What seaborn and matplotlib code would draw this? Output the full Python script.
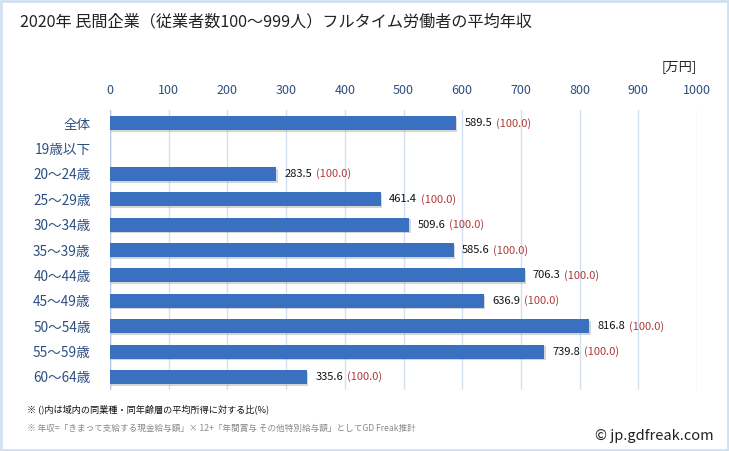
import numpy as np
import pandas as pd
import seaborn as sns
import matplotlib.pyplot as plt
import matplotlib.patheffects as pe
from matplotlib.patches import Rectangle

# ----------------------------------------
# Data
# ----------------------------------------
categories = ["全体", "19歳以下", "20～24歳", "25～29歳", "30～34歳", "35～39歳",
              "40～44歳", "45～49歳", "50～54歳", "55～59歳", "60～64歳"]
income = [589.5, np.nan, 283.5, 461.4, 509.6, 585.6, 706.3, 636.9, 816.8, 739.8, 335.6]
ratio = [100.0, np.nan, 100.0, 100.0, 100.0, 100.0, 100.0, 100.0, 100.0, 100.0, 100.0]
xticks = [0, 100, 200, 300, 400, 500, 600, 700, 800, 900, 1000]

df = pd.DataFrame({"age": categories, "income": income, "ratio": ratio})

# ----------------------------------------
# Style
# ----------------------------------------
sns.set_style("white")
plt.rcParams["font.family"] = ["Noto Sans CJK JP", "DejaVu Sans"]

bar_color = "#3a70c0"
tick_color = "#2d4f80"
grid_color = "#d3e0f1"
red = "#b03a3a"

fig = plt.figure(figsize=(7.29, 4.51), dpi=100)
ax = fig.add_axes([0.151, 0.136, 0.805, 0.619])

sns.barplot(data=df, x="income", y="age", color=bar_color, orient="h",
            width=0.55, saturation=1, linewidth=0, ax=ax, zorder=3)
for bar in ax.patches:
    bar.set_path_effects([pe.SimplePatchShadow(offset=(1, -1.2), shadow_rgbFace="#8a8a8a",
                                               alpha=0.35), pe.Normal()])

ax.set_xlim(0, 1000)
ax.set_ylim(10.5, -0.5)
ax.set_xticks(xticks)
ax.xaxis.tick_top()
ax.tick_params(axis="x", length=0, pad=10, labelsize=9, labelcolor=tick_color)
ax.tick_params(axis="y", length=0, pad=14, labelsize=9.8, labelcolor=tick_color)
ax.set_xlabel("")
ax.set_ylabel("")
for s in ax.spines.values():
    s.set_visible(False)
ax.grid(axis="x", color=grid_color, linewidth=1, zorder=0)
ax.axvline(0, color="#b8c8e0", linewidth=1, zorder=1)

# value labels
for i, (v, r) in enumerate(zip(income, ratio)):
    if np.isnan(v):
        continue
    t1 = ax.annotate(f"{v:.1f}", xy=(v, i), xytext=(6, 0), textcoords="offset points",
                     va="center", ha="left", fontsize=8, color="#111111")
    ax.annotate(f"({r:.1f})", xy=(1, 0.5), xycoords=t1, xytext=(2.5, 0),
                textcoords="offset points", va="center", ha="left", fontsize=8, color=red)

# titles and notes
fig.text(20 / 729, 1 - 22 / 451, "2020年 民間企業（従業者数100～999人）フルタイム労働者の平均年収",
         fontsize=11.6, va="center", ha="left", color="#222222")
fig.text(697 / 729, 1 - 67 / 451, "[万円]", fontsize=9.5, va="center", ha="right", color="#222222")
fig.text(27 / 729, 1 - 409 / 451, "※ ()内は域内の同業種・同年齢層の平均所得に対する比(%)",
         fontsize=6.6, va="center", ha="left", color="#111111")
fig.text(27 / 729, 1 - 428 / 451,
         "※ 年収=「きまって支給する現金給与額」× 12+「年間賞与 その他特別給与額」としてGD Freak推計",
         fontsize=6.2, va="center", ha="left", color="#888888")
fig.text(714 / 729, 1 - 436 / 451, "© jp.gdfreak.com", fontsize=10.5, va="center", ha="right",
         color="#222222")

# outer frame
fig.patches.append(Rectangle((0.001, 0.002), 0.997, 0.995, transform=fig.transFigure,
                             fill=False, edgecolor="#cfe0f0", linewidth=2))

plt.savefig("out.png", dpi=100)
